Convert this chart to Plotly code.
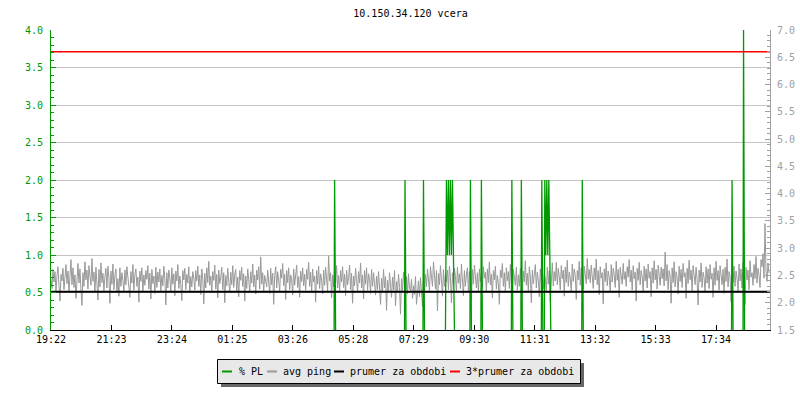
import plotly.graph_objects as go

# ---------------- data ----------------
title_text = "10.150.34.120 vcera"
tick_labels = ["19:22", "21:23", "23:24", "01:25", "03:26", "05:28",
               "07:29", "09:30", "11:31", "13:32", "15:33", "17:34"]
tick_step_min = 121.09          # minutes between labelled ticks
sample_step_min = 2             # avg ping sample spacing (minutes)
day_minutes = 1440

# avg ping (right axis, ms)
avg_ping = [
    2.44, 2.26, 2.61, 2.38, 2.57, 2.21, 2.49, 2.66, 2.31, 2.03, 2.52, 2.40, 2.63, 2.24, 2.47, 2.70, 2.35, 2.58,
    2.19, 2.45, 2.79, 2.33, 2.64, 2.28, 2.51, 2.08, 2.59, 2.72, 2.36, 2.62, 2.23, 1.95, 2.55, 2.30, 2.75, 2.42,
    2.60, 2.25, 2.68, 2.47, 2.32, 2.81, 2.39, 2.56, 2.20, 2.65, 2.43, 2.05, 2.61, 2.29, 2.73, 2.37, 2.54, 2.22,
    2.48, 2.63, 2.27, 2.67, 2.46, 1.99, 2.58, 2.34, 2.71, 2.24, 2.50, 2.62, 2.18, 2.44, 2.12, 2.64, 2.30, 2.55,
    2.41, 2.21, 2.60, 2.33, 2.66, 2.45, 2.26, 2.10, 2.57, 2.36, 2.70, 2.23, 2.52, 2.62, 2.30, 2.47, 2.01, 2.58,
    2.39, 2.64, 2.20, 2.51, 2.32, 2.59, 2.43, 2.68, 2.25, 2.54, 2.07, 2.61, 2.35, 2.49, 2.17, 2.65, 2.28, 2.56,
    2.38, 2.62, 2.22, 2.50, 2.31, 2.67, 2.44, 1.96, 2.55, 2.27, 2.60, 2.46, 2.19, 2.64, 2.34, 2.53, 2.13, 2.58,
    2.40, 2.70, 2.26, 2.49, 2.33, 2.04, 2.59, 2.42, 2.63, 2.24, 2.52, 2.36, 2.66, 2.18, 2.48, 2.29, 2.57, 2.45,
    2.23, 2.59, 2.40, 2.67, 2.30, 2.51, 2.15, 2.62, 2.44, 1.98, 2.54, 2.27, 2.64, 2.37, 2.76, 2.32, 2.49, 2.20,
    2.57, 2.41, 2.69, 2.25, 2.52, 2.09, 2.60, 2.35, 2.46, 2.65, 2.24, 2.55, 2.00, 2.50, 2.31, 2.63, 2.39, 2.18,
    2.56, 2.33, 2.68, 2.28, 2.52, 2.61, 2.22, 2.47, 2.11, 2.59, 2.41, 2.65, 2.30, 2.53, 2.03, 2.49, 2.26, 2.62,
    2.43, 2.19, 2.57, 2.36, 2.71, 2.29, 2.51, 2.16, 2.60, 2.42, 2.66, 2.25, 2.84, 2.34, 2.55, 2.21, 2.50, 2.38,
    2.29, 2.60, 2.44, 2.17, 2.63, 2.33, 2.54, 1.97, 2.50, 2.66, 2.27, 2.57, 2.40, 2.21, 2.61, 2.45, 2.72, 2.31,
    2.52, 2.06, 2.59, 2.37, 2.64, 2.24, 2.51, 2.42, 2.14, 2.62, 2.32, 2.55, 2.69, 2.28, 2.48, 2.10, 2.58, 2.39,
    2.64, 2.31, 2.52, 2.23, 2.61, 2.43, 2.74, 2.30, 2.56, 2.19, 2.62, 2.38, 2.49, 2.01, 2.59, 2.34, 2.67, 2.26,
    2.53, 2.41, 2.16, 2.60, 2.32, 2.65, 2.45, 2.22, 2.86, 2.40, 2.55, 2.09, 2.51, 2.29, 2.62, 2.36, 2.68, 2.27,
    2.50, 2.21, 2.59, 2.38, 2.66, 2.28, 2.52, 2.13, 2.60, 2.33, 2.46, 2.69, 2.24, 2.54, 1.99, 2.49, 2.31, 2.63,
    2.42, 2.20, 2.57, 2.36, 2.73, 2.27, 2.51, 2.07, 2.59, 2.34, 2.64, 2.23, 2.53, 2.44, 2.17, 2.61, 2.30, 2.55,
    2.35, 2.14, 2.49, 2.24, 2.57, 2.29, 1.97, 2.45, 2.20, 2.61, 2.27, 2.48, 1.86, 2.41, 2.18, 2.55, 2.32, 2.10,
    2.47, 2.23, 2.59, 1.94, 2.39, 2.19, 2.52, 2.28, 1.79, 2.44, 2.21, 2.56, 2.33, 2.05, 2.48, 2.16, 2.53, 2.26,
    2.22, 2.43, 2.08, 2.31, 2.15, 2.48, 1.97, 2.27, 2.40, 2.11, 2.46, 2.21, 1.93, 2.38, 2.17, 2.52, 2.29, 2.62,
    2.42, 2.22, 2.66, 2.47, 2.30, 2.75, 2.50, 2.25, 2.59, 1.85, 2.54, 2.33, 2.68, 2.44, 2.12, 2.61, 2.30, 2.51,
    2.38, 2.60, 2.24, 2.67, 2.46, 2.00, 2.55, 2.32, 2.63, 2.48, 2.18, 2.65, 2.36, 2.53, 2.26, 2.71, 2.43, 2.13,
    2.59, 2.30, 2.51, 2.64, 2.22, 2.57, 2.44, 2.04, 2.61, 2.34, 2.69, 2.49, 2.27, 2.55, 2.19, 2.62, 2.39, 2.52,
    2.29, 2.66, 2.45, 2.56, 2.21, 2.62, 2.37, 2.75, 2.33, 2.52, 2.09, 2.59, 2.42, 2.67, 2.25, 2.50, 2.35, 1.97,
    2.60, 2.46, 2.72, 2.30, 2.55, 2.20, 2.64, 2.40, 2.57, 2.26, 2.70, 2.38, 2.14, 2.61, 2.48, 2.32, 2.65, 2.23,
    2.51, 2.30, 2.63, 2.43, 2.17, 2.58, 2.38, 2.77, 2.32, 2.54, 2.22, 2.66, 2.47, 2.00, 2.60, 2.35, 2.50, 2.70,
    2.27, 2.56, 2.41, 2.11, 2.62, 2.37, 2.68, 2.25, 2.53, 2.44, 2.19, 2.65, 2.34, 2.59, 2.02, 2.49, 2.73, 2.31,
    2.57, 2.40, 2.74, 2.33, 2.63, 2.48, 2.24, 2.68, 2.44, 2.60, 2.12, 2.65, 2.37, 2.78, 2.30, 2.56, 2.45, 2.20,
    2.71, 2.39, 2.62, 2.50, 2.06, 2.59, 2.42, 2.76, 2.32, 2.64, 2.47, 2.25, 2.67, 2.52, 2.35, 2.81, 2.43, 2.61,
    2.37, 2.69, 2.49, 2.26, 2.64, 2.42, 2.80, 2.33, 2.59, 2.15, 2.66, 2.45, 2.55, 1.98, 2.62, 2.39, 2.73, 2.31,
    2.58, 2.46, 2.21, 2.70, 2.38, 2.63, 2.51, 2.28, 2.76, 2.41, 2.61, 2.10, 2.65, 2.48, 2.34, 2.72, 2.43, 2.57,
    2.30, 2.66, 2.47, 2.79, 2.38, 2.60, 2.23, 2.68, 2.44, 2.56, 2.03, 2.63, 2.41, 2.74, 2.33, 2.59, 2.48, 2.18,
    2.67, 2.40, 2.62, 2.27, 2.71, 2.45, 2.57, 2.11, 2.64, 2.36, 2.77, 2.42, 2.61, 2.25, 2.69, 2.50, 2.32, 2.65,
    2.44, 2.62, 2.31, 2.93, 2.40, 2.70, 2.24, 2.59, 2.49, 1.99, 2.64, 2.37, 2.75, 2.29, 2.57, 2.46, 2.16, 2.67,
    2.39, 2.61, 2.28, 2.72, 2.47, 2.55, 2.08, 2.63, 2.35, 2.78, 2.42, 2.60, 2.22, 2.68, 2.50, 2.33, 2.65, 2.43,
    1.96, 2.60, 2.38, 2.73, 2.28, 2.56, 2.46, 2.19, 2.66, 2.36, 2.62, 2.26, 2.70, 2.43, 2.54, 2.10, 2.64, 2.32,
    2.76, 2.41, 2.59, 2.23, 2.68, 2.47, 2.33, 2.61, 2.17, 2.65, 2.39, 2.80, 2.29, 2.57, 2.49, 2.02, 2.63, 2.37,
    2.67, 2.30, 2.58, 2.45, 2.20, 2.71, 2.40, 2.62, 2.27, 2.74, 2.50, 1.97, 2.65, 2.42, 2.60, 2.24, 2.77, 2.47,
    2.55, 2.32, 2.70, 2.44, 2.85, 2.36, 2.63, 2.51, 2.28, 2.79, 2.66, 2.90, 2.45, 3.45, 2.58, 2.39, 2.73, 2.54,
]

# packet loss % (left axis): time in minutes since 19:22 and value (None = no loss between events)
pl_minutes = [567, 568, 569, 570, None,
              708, 709, 710, 711, None,
              745, 746, 747, 748, None,
              790, 792, 794, 796, 798, 800, 802, 804, 806, 808, None,
              839, 840, 841, 842, None,
              861, 862, 863, 864, None,
              922, 923, 924, 925, None,
              941, 942, 943, 944, None,
              982, 983, 984, 985, None,
              988, 989, 991, 993, 995, 997, 999, 1001, None,
              1063, 1064, 1065, 1066, None,
              1363, 1364, 1365, 1366, None,
              1386, 1387, 1388, 1389]
pl_values = [0, 2, 1, 0, None,
             0, 2, 1, 0, None,
             0, 2, 1, 0, None,
             0, 2, 1, 2, 1, 2, 1, 2, 1, 0, None,
             0, 2, 1, 0, None,
             0, 2, 1, 0, None,
             0, 2, 1, 0, None,
             0, 2, 1, 0, None,
             0, 2, 1, 0, None,
             0, 2, 1, 2, 1, 2, 1, 0, None,
             0, 2, 1, 0, None,
             0, 2, 1, 0, None,
             0, 4, 2, 0]

prumer = 2.2                    # average for the period (ms)
series_names = ["% PL", "avg ping", "prumer za obdobi", "3*prumer za obdobi"]

# ---------------- style ----------------
GREEN = "#009900"
GRAY = "#999999"
AXGRAY = "#a0a0a0"
GRID = "#c4c4c4"
FONT = "DejaVu Sans Mono"

ping_minutes = [i * sample_step_min for i in range(len(avg_ping))]
tick_vals = [i * tick_step_min for i in range(len(tick_labels))]

fig = go.Figure()
fig.add_trace(go.Scatter(x=ping_minutes, y=avg_ping, mode="lines", yaxis="y",
                         line=dict(color=GRAY, width=1), name=series_names[1]))
fig.add_trace(go.Scatter(x=pl_minutes, y=pl_values, mode="lines", yaxis="y2",
                         connectgaps=False,
                         line=dict(color=GREEN, width=1.3), name=series_names[0]))
fig.add_trace(go.Scatter(x=[0, day_minutes], y=[prumer, prumer], mode="lines", yaxis="y3",
                         line=dict(color="black", width=2), name=series_names[2]))
fig.add_trace(go.Scatter(x=[0, day_minutes], y=[3 * prumer, 3 * prumer], mode="lines", yaxis="y3",
                         line=dict(color="#ff0000", width=1.5), name=series_names[3]))

L, R, T, B = 51, 770, 30, 330
W, H = 800, 400


def px(x):
    return (x - L) / (R - L)


def py(y):
    return (B - y) / (B - T)


shapes = []
annotations = []
# legend shadow and box
shapes.append(dict(type="rect", xref="paper", yref="paper",
                   x0=px(221), x1=px(584), y0=py(387), y1=py(363),
                   fillcolor="#666666", line=dict(width=0), layer="above"))
shapes.append(dict(type="rect", xref="paper", yref="paper",
                   x0=px(217.5), x1=px(580.5), y0=py(383.5), y1=py(359.5),
                   fillcolor="#e8e8e8", line=dict(color="black", width=1), layer="above"))
leg_items = [(222, 237, GREEN), (267, 281, GRAY), (334, 348, "black"), (450, 464, "#ff0000")]
for (lx, tx, col), name in zip(leg_items, series_names):
    shapes.append(dict(type="line", xref="paper", yref="paper",
                       x0=px(lx), x1=px(lx + 10), y0=py(371.5), y1=py(371.5),
                       line=dict(color=col, width=2), layer="above"))
    annotations.append(dict(xref="paper", yref="paper", x=px(tx), y=py(371.5),
                            text=name, showarrow=False, xanchor="left", yanchor="middle",
                            font=dict(family=FONT, size=10, color="black")))

fig.update_layout(
    width=W, height=H,
    margin=dict(l=L, r=W - R, t=T, b=H - B, pad=0),
    paper_bgcolor="white", plot_bgcolor="white",
    showlegend=False,
    title=dict(text=title_text, x=0.5, xref="paper", xanchor="center",
               y=1 - 13 / H, yref="container", yanchor="middle",
               font=dict(family=FONT, size=10, color="black")),
    xaxis=dict(range=[0, day_minutes], tickvals=tick_vals, ticktext=tick_labels,
               ticks="inside", ticklen=5, tickcolor="black", showline=True,
               linecolor="black", linewidth=1, showgrid=False, zeroline=False,
               tickfont=dict(family=FONT, size=10, color="black"),
               layer="above traces", automargin=False),
    yaxis=dict(side="right", range=[1.5, 7.0], tick0=1.5, dtick=0.5, tickformat=".1f",
               ticks="inside", ticklen=5, tickcolor=AXGRAY, showline=True,
               linecolor=AXGRAY, showgrid=False, zeroline=False,
               tickfont=dict(family=FONT, size=10, color=AXGRAY),
               minor=dict(dtick=0.1, ticks="inside", ticklen=3, tickcolor=AXGRAY, showgrid=False),
               ticklabelstandoff=4, automargin=False),
    yaxis2=dict(side="left", overlaying="y", range=[0, 4], tick0=0, dtick=0.5, tickformat=".1f",
                ticks="inside", ticklen=5, tickcolor=GREEN, showline=True,
                linecolor=GREEN, showgrid=True, gridcolor=GRID, gridwidth=1, zeroline=False,
                tickfont=dict(family=FONT, size=10, color=GREEN),
                minor=dict(dtick=0.1, ticks="inside", ticklen=3, tickcolor=GREEN, showgrid=False),
                ticklabelstandoff=5, automargin=False),
    yaxis3=dict(overlaying="y", range=[1.5, 7.0], visible=False),
    shapes=shapes,
    annotations=annotations,
)

fig.write_html("out.html", config={"displayModeBar": False},
               post_script="document.body.style.margin='0';document.body.style.overflow='hidden';")
